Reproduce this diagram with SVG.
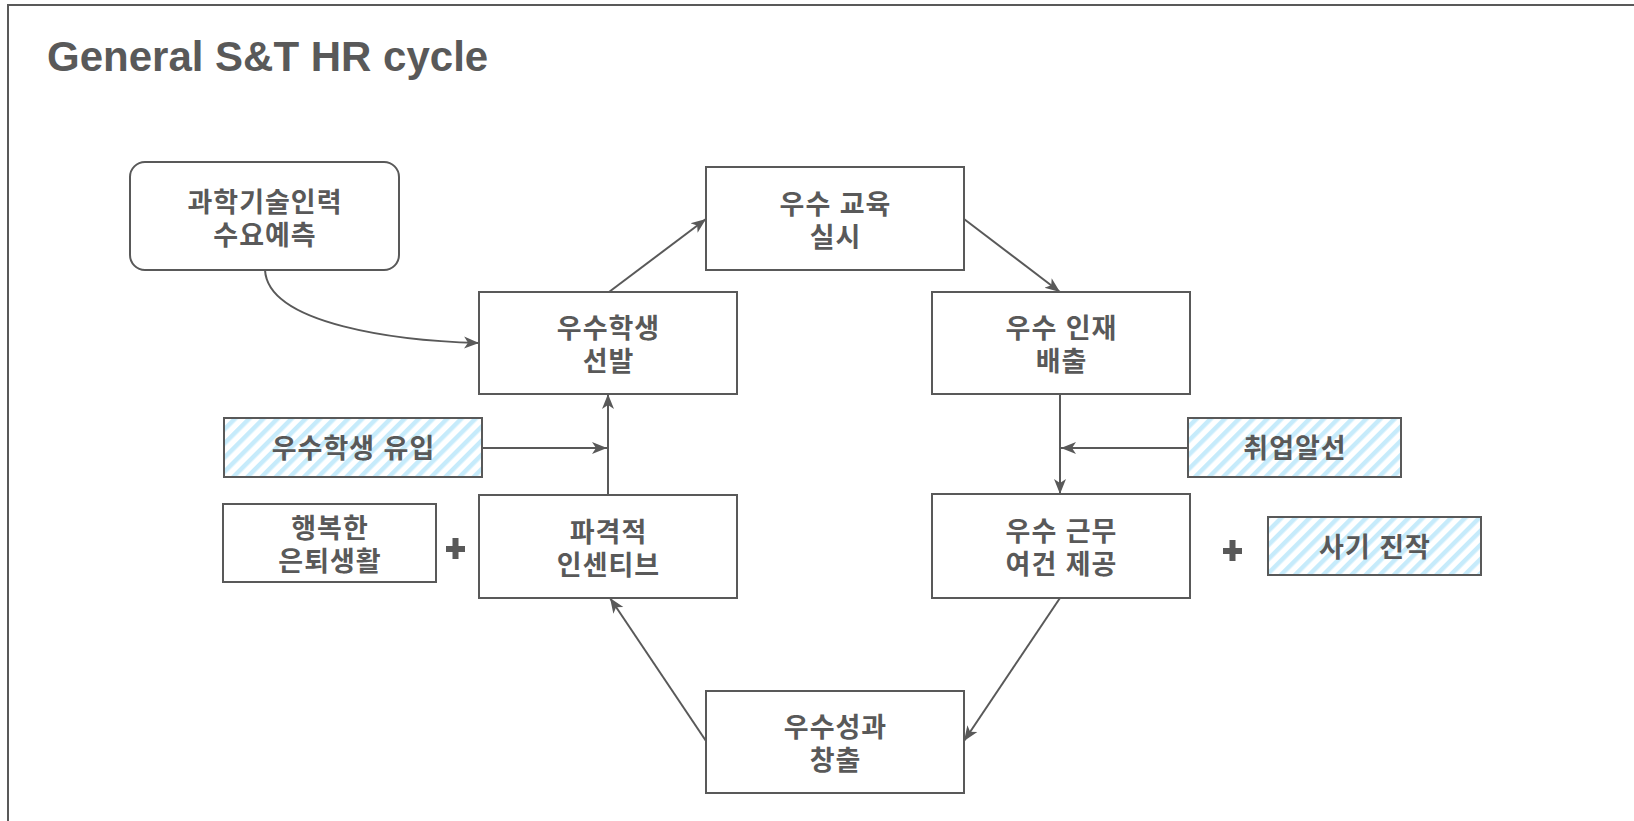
<svg xmlns="http://www.w3.org/2000/svg" width="1634" height="821" viewBox="0 0 1634 821">
<style>
.box{fill:#ffffff;stroke:#595959;stroke-width:2}
.hatch{fill:url(#stripes);stroke:#595959;stroke-width:2}
.lbl{font-family:"Liberation Sans","Noto Sans CJK KR",sans-serif;font-weight:bold;font-size:27px;letter-spacing:1px;fill:#595959;text-anchor:middle}
.conn{fill:none;stroke:#595959;stroke-width:2;marker-end:url(#arr)}
.title{font-family:"Liberation Sans",Arial,sans-serif;font-weight:bold;font-size:42px;fill:#595959}
.plus{fill:#595959}
</style>
<defs>
<pattern id="stripes" patternUnits="userSpaceOnUse" width="10" height="10" patternTransform="rotate(45)">
<rect x="0" y="0" width="10" height="10" fill="#ffffff"/>
<rect x="0" y="0" width="4.5" height="10" fill="#c6ebfb"/>
</pattern>
<marker id="arr" markerUnits="userSpaceOnUse" markerWidth="16" markerHeight="14" refX="15" refY="7" orient="auto">
<path d="M0,1 L15,7 L0,13 L4,7 Z" fill="#595959"/>
</marker>
</defs>
<rect x="8" y="5" width="1700" height="900" fill="#ffffff" stroke="#595959" stroke-width="2"/>
<text class="title" x="47" y="71">General S&amp;T HR cycle</text>
<g id="connectors">
<path class="conn" d="M265,270 C268,325 400,341 479,343"/>
<path class="conn" d="M609,292 L706,219"/>
<path class="conn" d="M964,219 L1060,292"/>
<path class="conn" d="M1060,394 L1060,494"/>
<path class="conn" d="M1188,448 L1061,448"/>
<path class="conn" d="M1060,598 L964,741"/>
<path class="conn" d="M706,741 L610,598"/>
<path class="conn" d="M608,495 L608,394"/>
<path class="conn" d="M482,448 L607,448"/>
</g>
<g id="n-demand">
<rect class="box" x="130" y="162" width="269" height="108" rx="15" ry="15"/>
<text class="lbl" x="265" y="212">과학기술인력</text>
<text class="lbl" x="265" y="245">수요예측</text>
</g>
<g id="n-select">
<rect class="box" x="479" y="292" width="258" height="102"/>
<text class="lbl" x="608.5" y="338">우수학생</text>
<text class="lbl" x="608.5" y="371">선발</text>
</g>
<g id="n-edu">
<rect class="box" x="706" y="167" width="258" height="103"/>
<text class="lbl" x="835.5" y="213.5">우수 교육</text>
<text class="lbl" x="835.5" y="246.5">실시</text>
</g>
<g id="n-talent">
<rect class="box" x="932" y="292" width="258" height="102"/>
<text class="lbl" x="1061.5" y="338">우수 인재</text>
<text class="lbl" x="1061.5" y="371">배출</text>
</g>
<g id="n-inflow">
<rect class="hatch" x="224" y="418" width="258" height="59"/>
<text class="lbl" x="353.5" y="458">우수학생 유입</text>
</g>
<g id="n-job">
<rect class="hatch" x="1188" y="418" width="213" height="59"/>
<text class="lbl" x="1295" y="458">취업알선</text>
</g>
<g id="n-retire">
<rect class="box" x="223" y="504" width="213" height="78"/>
<text class="lbl" x="330" y="538">행복한</text>
<text class="lbl" x="330" y="571">은퇴생활</text>
</g>
<g id="plus-left">
<rect class="plus" x="446" y="546" width="19" height="6"/>
<rect class="plus" x="452.5" y="538" width="6" height="21"/>
</g>
<g id="n-incentive">
<rect class="box" x="479" y="495" width="258" height="103"/>
<text class="lbl" x="608.5" y="541.5">파격적</text>
<text class="lbl" x="608.5" y="574.5">인센티브</text>
</g>
<g id="n-work">
<rect class="box" x="932" y="494" width="258" height="104"/>
<text class="lbl" x="1061.5" y="541">우수 근무</text>
<text class="lbl" x="1061.5" y="574">여건 제공</text>
</g>
<g id="plus-right">
<rect class="plus" x="1223" y="548" width="19" height="6"/>
<rect class="plus" x="1229.5" y="540" width="6" height="21"/>
</g>
<g id="n-morale">
<rect class="hatch" x="1268" y="517" width="213" height="58"/>
<text class="lbl" x="1375" y="557">사기 진작</text>
</g>
<g id="n-output">
<rect class="box" x="706" y="691" width="258" height="102"/>
<text class="lbl" x="835.5" y="737">우수성과</text>
<text class="lbl" x="835.5" y="770">창출</text>
</g>
</svg>
